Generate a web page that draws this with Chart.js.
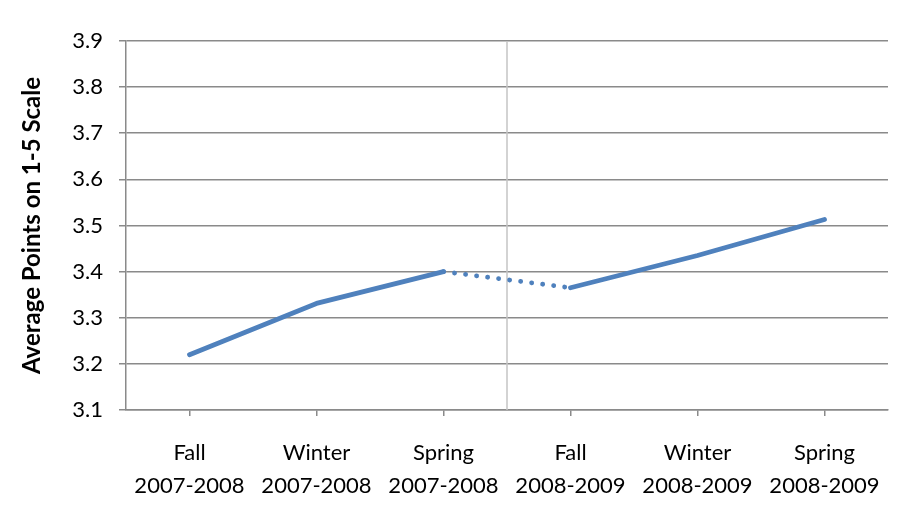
<!DOCTYPE html>
<html>
<head>
<meta charset="utf-8">
<script src="https://cdn.jsdelivr.net/npm/chart.js@4"></script>
<style>
  html, body { margin: 0; padding: 0; background: #fff; }
  #wrap { width: 905px; height: 515px; }
</style>
</head>
<body>
<div id="wrap"><canvas id="chart" width="905" height="515"></canvas></div>
<script>
const terms = [
  ["Fall", "2007-2008"],
  ["Winter", "2007-2008"],
  ["Spring", "2007-2008"],
  ["Fall", "2008-2009"],
  ["Winter", "2008-2009"],
  ["Spring", "2008-2009"],
];
const averagePoints = [3.22, 3.331, 3.40, 3.365, 3.435, 3.513];
const yTicks = [3.1, 3.2, 3.3, 3.4, 3.5, 3.6, 3.7, 3.8, 3.9];
const yTitle = "Average Points on 1-5 Scale";

const gridGray = "#8a8a8a";
const lineBlue = "#4f81bd";
const FONT = "Lato, 'Open Sans', sans-serif";

// vertical line separating the two school years
const yearDivider = {
  id: "yearDivider",
  beforeDatasetsDraw(chart) {
    const { ctx, chartArea, scales } = chart;
    const x = scales.x.getPixelForValue(2.5);
    ctx.save();
    ctx.strokeStyle = "#c4c4c4";
    ctx.lineWidth = 1.5;
    ctx.beginPath();
    ctx.moveTo(x, chartArea.top);
    ctx.lineTo(x, chartArea.bottom);
    ctx.stroke();
    ctx.restore();
  },
};

new Chart(document.getElementById("chart").getContext("2d"), {
  type: "line",
  data: {
    labels: terms,
    datasets: [
      {
        data: averagePoints,
        borderColor: lineBlue,
        borderWidth: 4.8,
        borderCapStyle: "round",
        borderJoinStyle: "round",
        pointRadius: 0,
        tension: 0,
        segment: {
          // summer gap between the years is drawn dotted
          borderDash: (ctx) => (ctx.p0DataIndex === 2 ? [0.1, 11] : undefined),
        },
      },
    ],
  },
  options: {
    responsive: false,
    animation: false,
    layout: { padding: { top: 41, right: 17, left: 0, bottom: 0 } },
    plugins: { legend: { display: false }, tooltip: { enabled: false } },
    scales: {
      x: {
        offset: true,
        afterFit: (scale) => { scale.height = 105; },
        border: { color: gridGray, width: 1.5 },
        grid: {
          offset: false,
          drawOnChartArea: false,
          tickColor: gridGray,
          tickLength: 6,
          lineWidth: 1.5,
        },
        ticks: {
          color: "#000",
          font: { family: FONT, size: 22, lineHeight: 1.5 },
          padding: 20,
          maxRotation: 0,
          autoSkip: false,
        },
      },
      y: {
        min: 3.1,
        max: 3.9,
        afterFit: (scale) => { scale.width = 126; },
        afterBuildTicks: (scale) => {
          scale.ticks = yTicks.map((v) => ({ value: v }));
        },
        border: { color: gridGray, width: 1.5 },
        grid: { color: gridGray, lineWidth: 1.5, tickLength: 7 },
        ticks: {
          color: "#000",
          font: { family: FONT, size: 22 },
          padding: 16,
          callback: (v) => v.toFixed(1),
        },
        title: {
          display: true,
          text: yTitle,
          color: "#000",
          font: { family: FONT, size: 24, weight: "bold" },
          padding: { top: 18, bottom: 0 },
        },
      },
    },
  },
  plugins: [yearDivider],
});
</script>
</body>
</html>
